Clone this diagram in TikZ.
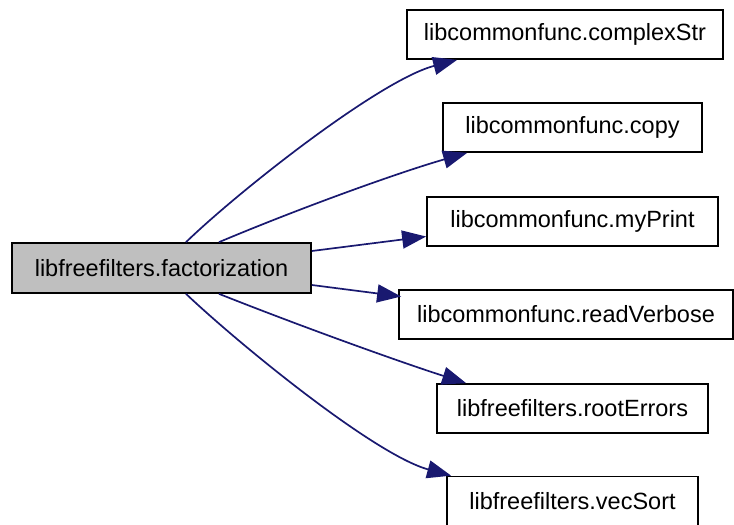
\documentclass[tikz,border=0pt]{standalone}
\usepackage{fontspec}
\setmainfont{Liberation Sans}
\usetikzlibrary{arrows.meta}
\definecolor{edgeblue}{HTML}{191970}
\definecolor{mainfill}{HTML}{BFBFBF}
\begin{document}
\begin{tikzpicture}[x=1pt,y=-1pt,
  fnbox/.style={draw=black, line width=1.7pt, rectangle, inner sep=0pt,
    minimum height=49pt, font=\fontsize{23.5}{28}\selectfont, fill=white},
  call/.style={draw=edgeblue, line width=1.7pt,
    -{Triangle[length=24pt,width=18pt]}},
]
\useasboundingbox (0,0) rectangle (734,525);

% function nodes
\node[fnbox, fill=mainfill, minimum width=299pt, minimum height=50pt] (main) at (161.5,268) {libfreefilters.factorization};
\node[fnbox, minimum width=316pt] (complexStr) at (565,34.5) {libcommonfunc.complexStr};
\node[fnbox, minimum width=259pt] (copy) at (572.5,127.5) {libcommonfunc.copy};
\node[fnbox, minimum width=291pt] (myPrint) at (572.5,221.5) {libcommonfunc.myPrint};
\node[fnbox, minimum width=334pt] (readVerbose) at (566,314.5) {libcommonfunc.readVerbose};
\node[fnbox, minimum width=271pt] (rootErrors) at (572.5,408.5) {libfreefilters.rootErrors};
\node[fnbox, minimum width=251pt] (vecSort) at (572.5,501) {libfreefilters.vecSort};

% call edges
\draw[call] ([xshift=24.5pt]main.north) .. controls (240,190) and (380,80) .. ([xshift=51pt]complexStr.south west);
\draw[call] ([xshift=57.5pt]main.north) .. controls (300,208) and (400,172) .. ([xshift=25pt]copy.south west);
\draw[call] ([yshift=17pt]main.east) -- ([yshift=-15pt]myPrint.west);
\draw[call] ([yshift=-17pt]main.east) -- ([yshift=18pt,xshift=3pt]readVerbose.west);
\draw[call] ([xshift=57.5pt]main.south) .. controls (300,326) and (400,362) .. ([xshift=30pt]rootErrors.north west);
\draw[call] ([xshift=24.5pt]main.south) .. controls (240,345) and (375,455) .. ([xshift=5pt]vecSort.north west);
\end{tikzpicture}
\end{document}
